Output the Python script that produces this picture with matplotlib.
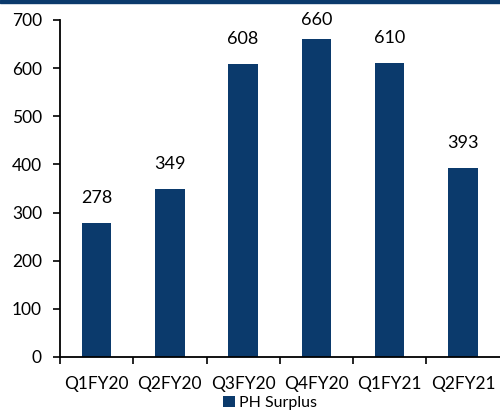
import matplotlib
matplotlib.use("Agg")
import matplotlib.pyplot as plt
from matplotlib.patches import Rectangle
import numpy as np

categories = ["Q1FY20", "Q2FY20", "Q3FY20", "Q4FY20", "Q1FY21", "Q2FY21"]
values = [278, 349, 608, 660, 610, 393]
series_name = "PH Surplus"
bar_color = "#0b3a6c"

plt.rcParams['font.family'] = ['Lato', 'DejaVu Sans']

fig = plt.figure(figsize=(5.0, 4.11), dpi=100)
ax = fig.add_axes([0.12, 0.1314, 0.879, 0.82])

x = np.arange(len(categories))
bars = ax.bar(x, values, width=0.4, color=bar_color, label=series_name)
for xi, v in zip(x, values):
    ax.text(xi, min(v + 35, 684), f"{v}", ha='center', va='bottom', fontsize=13,
            color='black', clip_on=False)

ax.set_xlim(-0.5, len(categories) - 0.5)
ax.set_ylim(0, 700)
ax.set_yticks(range(0, 701, 100))
ax.tick_params(axis='y', labelsize=12.5, length=5, width=1.2, direction='out', pad=8)
ax.set_xticks(x)
ax.set_xticklabels(categories)
ax.tick_params(axis='x', which='major', length=0, labelsize=12.5, pad=14)
ax.set_xticks(np.arange(-0.5, len(categories) - 0.5, 1.0), minor=True)
ax.tick_params(axis='x', which='minor', length=5, width=1.2, direction='out')
for s in ['top', 'right']:
    ax.spines[s].set_visible(False)
for s in ['left', 'bottom']:
    ax.spines[s].set_linewidth(1.3)

leg = fig.legend(handles=[bars], labels=[series_name], loc='center', bbox_to_anchor=(0.54, 0.02),
                 frameon=False, fontsize=11.5, handlelength=0.75, handleheight=0.75,
                 handletextpad=0.3, borderaxespad=0, borderpad=0)

fig.patches.append(Rectangle((0, 0.992), 1, 0.008, transform=fig.transFigure,
                             color=bar_color, zorder=10))

fig.savefig("out.png", dpi=100)
